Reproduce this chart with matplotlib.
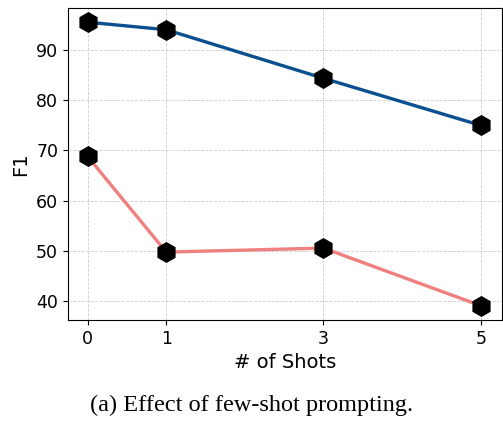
import numpy as np
import matplotlib.pyplot as plt

shots = [0, 1, 3, 5]
blue_f1 = [95.6, 94.1, 84.4, 75.0]
red_f1 = [68.8, 49.7, 50.5, 39.0]

fig = plt.figure(figsize=(5.03, 4.22), dpi=100)
ax = fig.add_axes([0.135, 0.242, 0.863, 0.739])

ax.plot(shots, blue_f1, color="#0a4f8f", linewidth=2.4, marker="h",
        markersize=14, markerfacecolor="black", markeredgecolor="black", zorder=3)
ax.plot(shots, red_f1, color="#f08080", linewidth=2.4, marker="h",
        markersize=14, markerfacecolor="black", markeredgecolor="black", zorder=3)

ax.set_xlim(-0.25, 5.27)
ax.set_xticks(shots)
ax.set_yticks([40, 50, 60, 70, 80, 90])
ax.tick_params(labelsize=12.5)
ax.set_xlabel("# of Shots", fontsize=14)
ax.set_ylabel("F1", fontsize=14)
ax.grid(True, linestyle="--", color="#cccccc", linewidth=0.6)
ax.set_axisbelow(True)

fig.text(0.5, 0.04, "(a) Effect of few-shot prompting.", ha="center", va="center",
         fontsize=17.5, family="Liberation Serif")

fig.savefig("out.png", dpi=100)
